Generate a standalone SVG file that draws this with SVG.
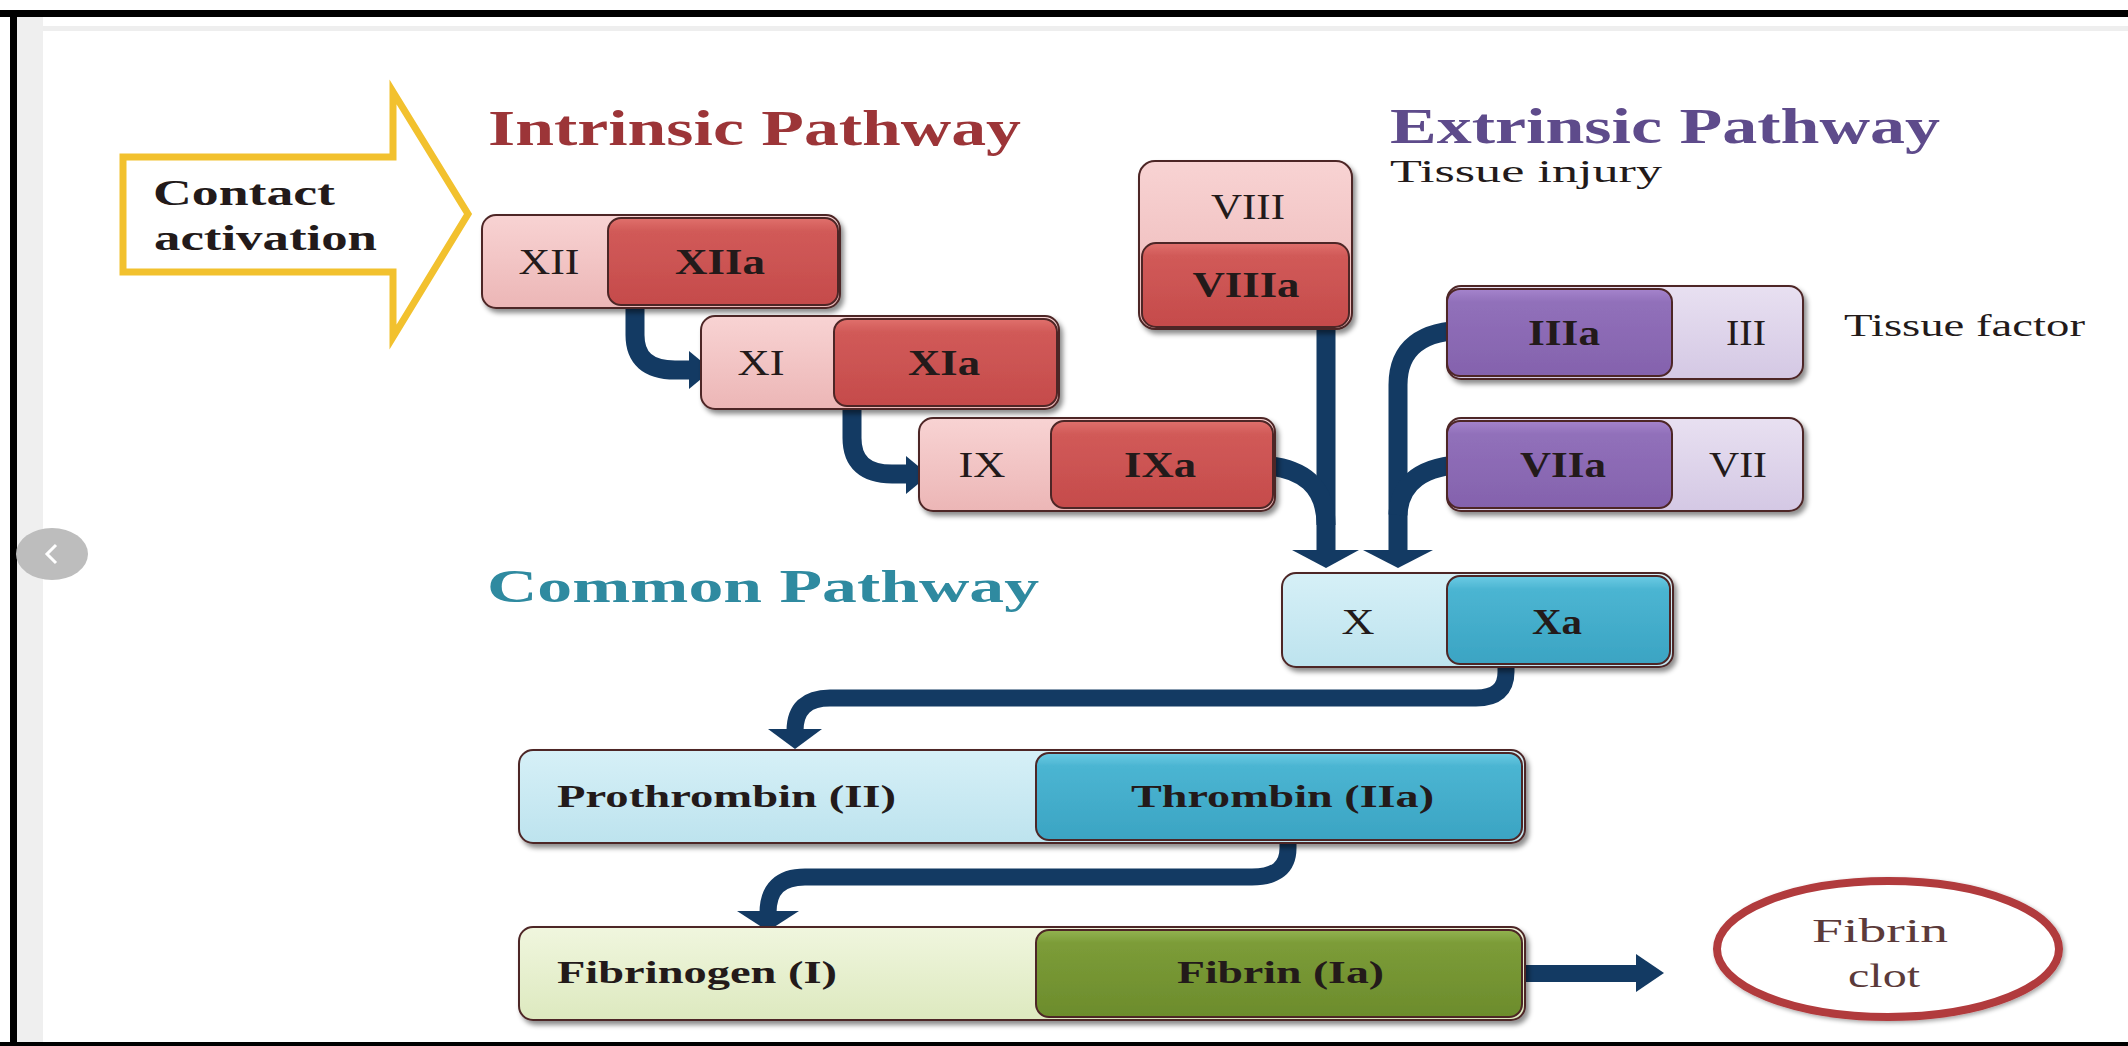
<svg xmlns="http://www.w3.org/2000/svg" width="2128" height="1046" viewBox="0 0 2128 1046">
<defs>
<style>
.t{font-family:"Liberation Serif","Times New Roman",serif;fill:#231a1a}
.b{font-weight:bold}
.lbl{font-size:35px}
.big{font-size:31px}
.hdr{font-size:51px;font-weight:bold}
.ol{stroke:#4e2626;stroke-width:2}
.con{fill:none;stroke:#133a63;stroke-width:19}
.head{fill:#133a63}
</style>
<linearGradient id="pinkL" x1="0" y1="0" x2="0" y2="1"><stop offset="0" stop-color="#f8d3d3"/><stop offset="1" stop-color="#ecb6b6"/></linearGradient>
<linearGradient id="redD" x1="0" y1="0" x2="0" y2="1"><stop offset="0" stop-color="#e0706c"/><stop offset="0.15" stop-color="#d15a58"/><stop offset="1" stop-color="#c54b4b"/></linearGradient>
<linearGradient id="lavL" x1="0" y1="0" x2="0" y2="1"><stop offset="0" stop-color="#e8e0f1"/><stop offset="1" stop-color="#d4c8e4"/></linearGradient>
<linearGradient id="purD" x1="0" y1="0" x2="0" y2="1"><stop offset="0" stop-color="#a584cc"/><stop offset="0.15" stop-color="#9170ba"/><stop offset="1" stop-color="#8462ad"/></linearGradient>
<linearGradient id="blueL" x1="0" y1="0" x2="0" y2="1"><stop offset="0" stop-color="#d6f0f7"/><stop offset="1" stop-color="#bde3ee"/></linearGradient>
<linearGradient id="blueD" x1="0" y1="0" x2="0" y2="1"><stop offset="0" stop-color="#6ccbe4"/><stop offset="0.15" stop-color="#4bb5d2"/><stop offset="1" stop-color="#3ba4c3"/></linearGradient>
<linearGradient id="greenL" x1="0" y1="0" x2="0" y2="1"><stop offset="0" stop-color="#f0f6de"/><stop offset="1" stop-color="#dde9bf"/></linearGradient>
<linearGradient id="greenD" x1="0" y1="0" x2="0" y2="1"><stop offset="0" stop-color="#92b350"/><stop offset="0.15" stop-color="#7c9c38"/><stop offset="1" stop-color="#6c8c2c"/></linearGradient>
<filter id="sh" x="-10%" y="-20%" width="125%" height="150%"><feDropShadow dx="3" dy="4" stdDeviation="2.5" flood-color="#000" flood-opacity="0.45"/></filter>
<filter id="sh2" x="-10%" y="-20%" width="125%" height="150%"><feDropShadow dx="2" dy="2" stdDeviation="2" flood-color="#000" flood-opacity="0.35"/></filter>
</defs>

<!-- page / frame -->
<rect x="0" y="0" width="2128" height="1046" fill="#ffffff"/>
<rect x="17" y="17" width="26" height="1029" fill="#efefef"/>
<rect x="43" y="26" width="2085" height="5" fill="#eeeeee"/>
<rect x="0" y="10" width="2128" height="7" fill="#000"/>
<rect x="10" y="10" width="7" height="1036" fill="#000"/>
<rect x="0" y="1042" width="2128" height="4" fill="#000"/>
<ellipse cx="52" cy="554" rx="36" ry="26" fill="#bdbdbd"/>
<path d="M56 545 L47 554 L56 563" fill="none" stroke="#fff" stroke-width="3"/>

<!-- titles -->
<g id="titles">
<text class="t hdr" x="488" y="145" style="fill:#9c3538" textLength="533" lengthAdjust="spacingAndGlyphs">Intrinsic Pathway</text>
<text class="t hdr" x="1390" y="143" style="fill:#5e4b8b" textLength="550" lengthAdjust="spacingAndGlyphs">Extrinsic Pathway</text>
<text class="t big" x="1390" y="182" textLength="272" lengthAdjust="spacingAndGlyphs">Tissue injury</text>
<text class="t big" x="1844" y="336" textLength="241" lengthAdjust="spacingAndGlyphs">Tissue factor</text>
<text class="t b" x="487" y="602" style="fill:#2f8aa0;font-size:47px" textLength="552" lengthAdjust="spacingAndGlyphs">Common Pathway</text>
</g>

<!-- contact activation arrow -->
<g id="contact">
<polygon points="123,157 393,157 393,92 468,214 393,337 393,272 123,272" fill="#fff" stroke="#f2c12e" stroke-width="7" stroke-linejoin="miter"/>
<text class="t b" x="153" y="205" style="font-size:36px" textLength="182" lengthAdjust="spacingAndGlyphs">Contact</text>
<text class="t b" x="154" y="250" style="font-size:36px" textLength="223" lengthAdjust="spacingAndGlyphs">activation</text>
</g>

<!-- connectors -->
<g id="connectors">
<path class="con" d="M635 293 V335 Q635 370 675 370 H692"/>
<polygon class="head" points="689,351 712,370 689,389"/>
<path class="con" d="M852 396 V438 Q852 474 892 474 H909"/>
<polygon class="head" points="906,456 929,475 906,494"/>
<path class="con" d="M1326 321 V551"/>
<path class="con" d="M1260 465 Q1326 468 1326 525"/>
<polygon class="head" points="1292,550 1359,550 1326,568"/>
<path class="con" d="M1468 330 Q1398 330 1398 385 V551"/>
<path class="con" d="M1468 464 Q1400 466 1398 515"/>
<polygon class="head" points="1363,550 1433,550 1398,568"/>
<path class="con" d="M1506 650 V672 Q1506 698 1476 698 H830 Q795 698 795 731" style="stroke-width:17"/>
<polygon class="head" points="768,729 822,729 795,749"/>
<path class="con" d="M1288 825 V848 Q1288 877 1252 877 H805 Q768 877 768 913" style="stroke-width:17"/>
<polygon class="head" points="737,911 799,911 768,931"/>
<rect x="1506" y="965" width="132" height="17" fill="#133a63"/>
<polygon class="head" points="1636,954 1664,973 1636,992"/>
</g>

<!-- nodes -->
<g id="node-XII" filter="url(#sh)">
<rect class="ol" x="482" y="215" width="358" height="93" rx="14" fill="url(#pinkL)"/>
<rect class="ol" x="608" y="218" width="230" height="87" rx="13" fill="url(#redD)" stroke="#3a1a1a"/>
</g>
<g id="label-XII">
<text class="t lbl" x="518.5" y="274" textLength="61" lengthAdjust="spacingAndGlyphs">XII</text>
<text class="t lbl b" x="675" y="274" textLength="90" lengthAdjust="spacingAndGlyphs">XIIa</text>
</g>

<g id="node-XI" filter="url(#sh)">
<rect class="ol" x="701" y="316" width="358" height="93" rx="14" fill="url(#pinkL)"/>
<rect class="ol" x="834" y="319" width="223" height="87" rx="13" fill="url(#redD)" stroke="#3a1a1a"/>
</g>
<g id="label-XI">
<text class="t lbl" x="737.5" y="375" textLength="47" lengthAdjust="spacingAndGlyphs">XI</text>
<text class="t lbl b" x="908" y="375" textLength="72" lengthAdjust="spacingAndGlyphs">XIa</text>
</g>

<g id="node-IX" filter="url(#sh)">
<rect class="ol" x="919" y="418" width="356" height="93" rx="14" fill="url(#pinkL)"/>
<rect class="ol" x="1051" y="421" width="222" height="87" rx="13" fill="url(#redD)" stroke="#3a1a1a"/>
</g>
<g id="label-IX">
<text class="t lbl" x="958.5" y="477" textLength="47" lengthAdjust="spacingAndGlyphs">IX</text>
<text class="t lbl b" x="1124" y="477" textLength="72" lengthAdjust="spacingAndGlyphs">IXa</text>
</g>

<g id="node-VIII" filter="url(#sh)">
<rect class="ol" x="1139" y="161" width="213" height="168" rx="16" fill="url(#pinkL)"/>
<rect class="ol" x="1142" y="243" width="207" height="84" rx="14" fill="url(#redD)" stroke="#3a1a1a"/>
</g>
<g id="label-VIII">
<text class="t lbl" x="1211" y="219" textLength="74" lengthAdjust="spacingAndGlyphs">VIII</text>
<text class="t lbl b" x="1192.5" y="297" textLength="107" lengthAdjust="spacingAndGlyphs">VIIIa</text>
</g>

<g id="node-III" filter="url(#sh)">
<rect class="ol" x="1447" y="286" width="356" height="93" rx="14" fill="url(#lavL)"/>
<rect class="ol" x="1447" y="289" width="225" height="87" rx="13" fill="url(#purD)" stroke="#3a1a1a"/>
</g>
<g id="label-III">
<text class="t lbl b" x="1528" y="345" textLength="72" lengthAdjust="spacingAndGlyphs">IIIa</text>
<text class="t lbl" x="1726" y="345" textLength="40" lengthAdjust="spacingAndGlyphs">III</text>
</g>

<g id="node-VII" filter="url(#sh)">
<rect class="ol" x="1447" y="418" width="356" height="93" rx="14" fill="url(#lavL)"/>
<rect class="ol" x="1447" y="421" width="225" height="87" rx="13" fill="url(#purD)" stroke="#3a1a1a"/>
</g>
<g id="label-VII">
<text class="t lbl b" x="1520" y="477" textLength="86" lengthAdjust="spacingAndGlyphs">VIIa</text>
<text class="t lbl" x="1709" y="477" textLength="58" lengthAdjust="spacingAndGlyphs">VII</text>
</g>

<g id="node-X" filter="url(#sh)">
<rect class="ol" x="1282" y="573" width="391" height="94" rx="14" fill="url(#blueL)"/>
<rect class="ol" x="1447" y="576" width="223" height="88" rx="13" fill="url(#blueD)" stroke="#2a1a1a"/>
</g>
<g id="label-X">
<text class="t lbl" x="1341.5" y="634" textLength="33" lengthAdjust="spacingAndGlyphs">X</text>
<text class="t lbl b" x="1532" y="634" textLength="50" lengthAdjust="spacingAndGlyphs">Xa</text>
</g>

<g id="node-II" filter="url(#sh)">
<rect class="ol" x="519" y="750" width="1006" height="93" rx="14" fill="url(#blueL)"/>
<rect class="ol" x="1036" y="753" width="486" height="87" rx="13" fill="url(#blueD)" stroke="#2a1a1a"/>
</g>
<g id="label-II">
<text class="t big b" x="557" y="807" textLength="339" lengthAdjust="spacingAndGlyphs">Prothrombin (II)</text>
<text class="t big b" x="1131" y="807" textLength="303" lengthAdjust="spacingAndGlyphs">Thrombin (IIa)</text>
</g>

<g id="node-I" filter="url(#sh)">
<rect class="ol" x="519" y="927" width="1006" height="93" rx="14" fill="url(#greenL)"/>
<rect class="ol" x="1036" y="930" width="486" height="87" rx="13" fill="url(#greenD)" stroke="#2a1a1a"/>
</g>
<g id="label-I">
<text class="t big b" x="557" y="983" textLength="280" lengthAdjust="spacingAndGlyphs">Fibrinogen (I)</text>
<text class="t big b" x="1177" y="983" textLength="207" lengthAdjust="spacingAndGlyphs">Fibrin (Ia)</text>
</g>

<g id="node-clot">
<ellipse cx="1888" cy="949" rx="171" ry="68" fill="#fff" stroke="#b13a3d" stroke-width="8" filter="url(#sh2)"/>
<text class="t" x="1812" y="942" style="font-size:33px;fill:#5b3a3a" textLength="136" lengthAdjust="spacingAndGlyphs">Fibrin</text>
<text class="t" x="1848" y="987" style="font-size:33px;fill:#5b3a3a" textLength="72" lengthAdjust="spacingAndGlyphs">clot</text>
</g>
</svg>
